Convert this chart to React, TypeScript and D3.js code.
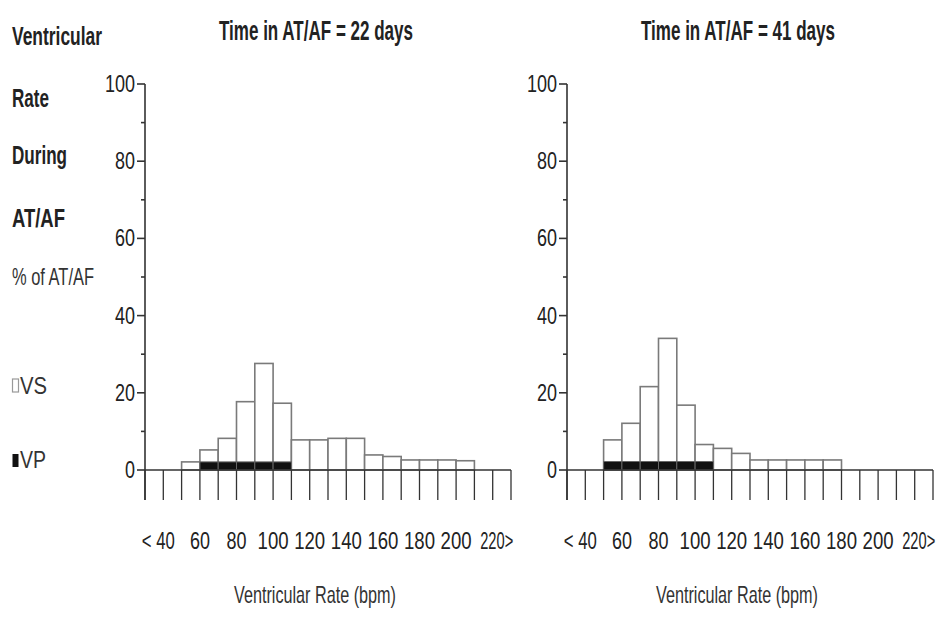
import React from 'react';
import * as d3 from 'd3';

// ---- data ----
const binStartsLeft = [50, 60, 70, 80, 90, 100, 110, 120, 130, 140, 150, 160, 170, 180, 190, 200];
const vsLeft = [2.1, 5.2, 8.2, 17.7, 27.6, 17.3, 7.8, 7.8, 8.2, 8.2, 3.9, 3.5, 2.6, 2.6, 2.6, 2.4];
const vpStartsLeft = [60, 70, 80, 90, 100];
const vpLeft = [2.1, 2.1, 2.1, 2.1, 2.1];

const binStartsRight = [50, 60, 70, 80, 90, 100, 110, 120, 130, 140, 150, 160, 170];
const vsRight = [7.8, 12.1, 21.6, 34.1, 16.8, 6.6, 5.6, 4.3, 2.6, 2.6, 2.6, 2.6, 2.6];
const vpStartsRight = [50, 60, 70, 80, 90, 100];
const vpRight = [2.2, 2.2, 2.2, 2.2, 2.2, 2.2];

const xTickValues = [30, 40, 50, 60, 70, 80, 90, 100, 110, 120, 130, 140, 150, 160, 170, 180, 190, 200, 210, 220, 230];
const xLabelValues = [40, 60, 80, 100, 120, 140, 160, 180, 200, 220];
const xLabelTexts = ['< 40', '60', '80', '100', '120', '140', '160', '180', '200', '220>'];
const yMajor = [0, 20, 40, 60, 80, 100];
const yMinor = [10, 30, 50, 70, 90];

const titles = ['Time in AT/AF = 22 days', 'Time in AT/AF = 41 days'];
const BIN = 10;

const FONT = '"Liberation Sans", Arial, sans-serif';
const TXT = '#222';
const AX = '#333';

type PanelProps = {
  x0: number;
  title: string;
  starts: number[];
  vs: number[];
  vpStarts: number[];
  vp: number[];
};

function Panel({ x0, title, starts, vs, vpStarts, vp }: PanelProps) {
  const x = d3.scaleLinear().domain([30, 230]).range([x0, x0 + 366]);
  const y = d3.scaleLinear().domain([0, 100]).range([470, 84]);
  const base = y(0);
  const tickBottom = 500;
  const labelShift = (t: string) => (t.startsWith('<') ? -5 : t.endsWith('>') ? 4 : 0);
  const labelWidth = (t: string) => (t.length >= 4 ? 33 : t.length === 3 ? 31 : 20);
  return (
    <g>
      <text x={x0 + 171} y={40} textAnchor="middle" fontFamily={FONT} fontWeight="bold" fontSize={27}
        fill={TXT} textLength={194} lengthAdjust="spacingAndGlyphs">{title}</text>
      {/* VS bars */}
      {starts.map((s, i) => (
        <rect key={'vs' + i} x={x(s)} y={y(vs[i])} width={x(s + BIN) - x(s)} height={base - y(vs[i])}
          fill="#fff" stroke="#7a7a7a" strokeWidth={1.6} />
      ))}
      {/* VP bars */}
      {vpStarts.map((s, i) => (
        <rect key={'vp' + i} x={x(s)} y={y(vp[i])} width={x(s + BIN) - x(s)} height={base - y(vp[i])}
          fill="#111" stroke="#666" strokeWidth={1} />
      ))}
      {/* y axis */}
      <line x1={x0} x2={x0} y1={y(100)} y2={tickBottom} stroke={AX} strokeWidth={1.6} />
      {yMajor.map((v) => (
        <g key={'ym' + v}>
          <line x1={x0 - 8} x2={x0} y1={y(v)} y2={y(v)} stroke={AX} strokeWidth={1.6} />
          <text x={x0 - 10} y={y(v) + 8} textAnchor="end" fontFamily={FONT} fontSize={23} fill={TXT}
            textLength={v === 100 ? 30 : v === 0 ? 10 : 20} lengthAdjust="spacingAndGlyphs">{v}</text>
        </g>
      ))}
      {yMinor.map((v) => (
        <line key={'yn' + v} x1={x0 - 4} x2={x0} y1={y(v)} y2={y(v)} stroke={AX} strokeWidth={1.6} />
      ))}
      {/* x axis */}
      <line x1={x0} x2={x(230)} y1={base} y2={base} stroke={AX} strokeWidth={1.6} />
      {xTickValues.map((v) => (
        <line key={'xt' + v} x1={x(v)} x2={x(v)} y1={base} y2={tickBottom} stroke={AX} strokeWidth={1.3} />
      ))}
      {xLabelValues.map((v, i) => (
        <text key={'xl' + v} x={x(v) + labelShift(xLabelTexts[i])} y={549} textAnchor="middle" fontFamily={FONT}
          fontSize={23} fill={TXT} textLength={labelWidth(xLabelTexts[i])} lengthAdjust="spacingAndGlyphs">
          {xLabelTexts[i]}
        </text>
      ))}
      <text x={x0 + 170} y={603} textAnchor="middle" fontFamily={FONT} fontSize={24} fill="#333"
        textLength={162} lengthAdjust="spacingAndGlyphs">Ventricular Rate (bpm)</text>
    </g>
  );
}

export default function App() {
  return (
    <svg width={948} height={620} style={{ display: 'block', position: 'absolute', left: 0, top: 0, background: '#fff' }}>
      <rect x={0} y={0} width={948} height={620} fill="#fff" />
      {/* left side heading */}
      <text x={12} y={45} fontFamily={FONT} fontWeight="bold" fontSize={26} fill={TXT} textLength={90} lengthAdjust="spacingAndGlyphs">Ventricular</text>
      <text x={12} y={107} fontFamily={FONT} fontWeight="bold" fontSize={26} fill={TXT} textLength={37} lengthAdjust="spacingAndGlyphs">Rate</text>
      <text x={12} y={164} fontFamily={FONT} fontWeight="bold" fontSize={26} fill={TXT} textLength={55} lengthAdjust="spacingAndGlyphs">During</text>
      <text x={12} y={227} fontFamily={FONT} fontWeight="bold" fontSize={26} fill={TXT} textLength={53} lengthAdjust="spacingAndGlyphs">AT/AF</text>
      <text x={12} y={285} fontFamily={FONT} fontSize={24} fill="#333" textLength={82} lengthAdjust="spacingAndGlyphs">% of AT/AF</text>
      {/* legend */}
      <rect x={12.5} y={379} width={6} height={13} fill="#fff" stroke="#999" strokeWidth={1.2} />
      <text x={20} y={394} fontFamily={FONT} fontSize={24} fill="#333" textLength={27} lengthAdjust="spacingAndGlyphs">VS</text>
      <rect x={12.5} y={454} width={6} height={13} fill="#111" />
      <text x={20} y={468} fontFamily={FONT} fontSize={24} fill="#333" textLength={26} lengthAdjust="spacingAndGlyphs">VP</text>
      <Panel x0={145} title={titles[0]} starts={binStartsLeft} vs={vsLeft} vpStarts={vpStartsLeft} vp={vpLeft} />
      <Panel x0={567} title={titles[1]} starts={binStartsRight} vs={vsRight} vpStarts={vpStartsRight} vp={vpRight} />
    </svg>
  );
}
